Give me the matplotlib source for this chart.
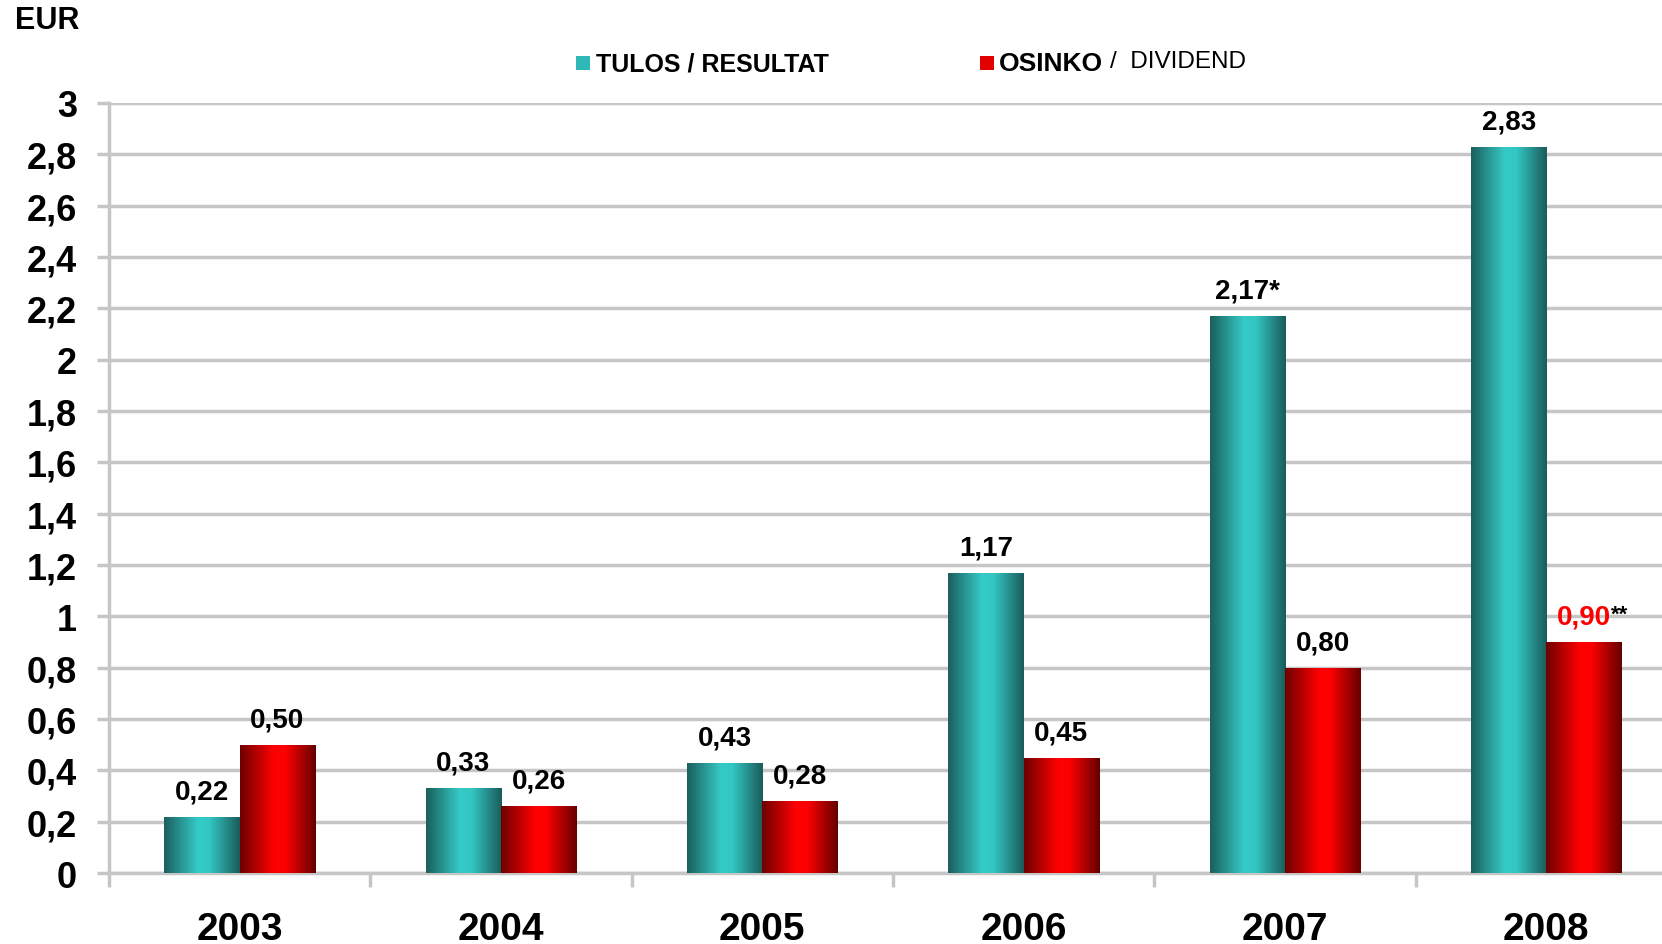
import matplotlib
matplotlib.use("Agg")
import matplotlib.pyplot as plt
import numpy as np
from matplotlib.colors import LinearSegmentedColormap
from matplotlib.patches import Rectangle

years = ["2003", "2004", "2005", "2006", "2007", "2008"]
tulos = [0.22, 0.33, 0.43, 1.17, 2.17, 2.83]
osinko = [0.50, 0.26, 0.28, 0.45, 0.80, 0.90]
tulos_labels = ["0,22", "0,33", "0,43", "1,17", "2,17*", "2,83"]
osinko_labels = ["0,50", "0,26", "0,28", "0,45", "0,80", "0,90"]
yticks = [0, 0.2, 0.4, 0.6, 0.8, 1, 1.2, 1.4, 1.6, 1.8, 2, 2.2, 2.4, 2.6, 2.8, 3]

plt.rcParams['font.family'] = ['Liberation Sans', 'DejaVu Sans']

teal_cmap = LinearSegmentedColormap.from_list(
    "teal", [(0, "#1b5f5d"), (0.45, "#35cbc8"), (0.6, "#33c6c3"), (1, "#1a5c5b")])
red_cmap = LinearSegmentedColormap.from_list(
    "red", [(0, "#6e0000"), (0.45, "#ff0000"), (0.6, "#fb0000"), (1, "#650000")])
grid_col = "#c6c6c6"

fig = plt.figure(figsize=(16.62, 9.45), dpi=100)
# axis runs past the right edge in the original
ax = fig.add_axes([0.0656, 0.0751, 0.9434, 0.8149])

x = np.arange(len(years))
w = 0.288
b1 = ax.bar(x - w / 2, tulos, w, zorder=3)
b2 = ax.bar(x + w / 2, osinko, w, zorder=3)


def grad_bars(bars, cmap):
    for b in bars:
        x0, y0 = b.get_x(), b.get_y()
        bw, bh = b.get_width(), b.get_height()
        im = ax.imshow(np.linspace(0, 1, 256).reshape(1, -1), cmap=cmap, aspect='auto',
                       extent=[x0, x0 + bw, y0, y0 + bh], zorder=3, interpolation='bilinear')
        im.set_clip_path(b)
        b.set_facecolor('none')
        b.set_edgecolor('none')


grad_bars(b1, teal_cmap)
grad_bars(b2, red_cmap)

ax.set_xlim(-0.5, 5.5)
ax.set_ylim(0, 3)
ax.set_yticks(yticks)
ax.set_yticklabels([("%g" % t).replace(".", ",") for t in yticks], fontsize=26, fontweight='bold')
ax.set_xticks(np.arange(-0.5, 6, 1))
ax.set_xticklabels([])
ax.set_xticks(x, minor=True)
ax.set_xticklabels(years, minor=True, fontsize=28, fontweight='bold')
ax.tick_params(axis='x', which='minor', length=0, pad=27)
ax.tick_params(axis='x', which='major', length=10, width=2.5, color=grid_col)
ax.tick_params(axis='y', length=9, width=2.5, color=grid_col, pad=14)
ax.yaxis.grid(True, color=grid_col, linewidth=2.5, zorder=0)
ax.set_axisbelow(True)
for s in ["top", "right"]:
    ax.spines[s].set_visible(False)
for s in ["left", "bottom"]:
    ax.spines[s].set_color(grid_col)
    ax.spines[s].set_linewidth(2.5)

for i in range(len(years)):
    ax.annotate(tulos_labels[i], (x[i] - w / 2, tulos[i]), xytext=(0, 9), textcoords='offset points',
                ha='center', va='bottom', fontsize=20, fontweight='bold', zorder=5)
    col = "red" if i == len(years) - 1 else "black"
    t = ax.annotate(osinko_labels[i], (x[i] + w / 2, osinko[i]), xytext=(0, 9), textcoords='offset points',
                    ha='center', va='bottom', fontsize=20, fontweight='bold', color=col, zorder=5)
    if i == len(years) - 1:
        ax.annotate("**", xy=(1, 1), xycoords=t, ha='left', va='top', fontsize=16,
                    fontweight='bold', color='black')

fig.text(0.009, 0.978, "EUR", fontsize=22, fontweight='bold', va='center', ha='left')

# legend
fig.patches.append(Rectangle((0.3466, 0.925), 0.0084, 0.0148, transform=fig.transFigure,
                             facecolor="#2fb8b5", edgecolor="none"))
fig.text(0.3585, 0.932, "TULOS / RESULTAT", fontsize=18, fontweight='bold', va='center', ha='left')
fig.patches.append(Rectangle((0.5896, 0.925), 0.0084, 0.0148, transform=fig.transFigure,
                             facecolor="#e00000", edgecolor="none"))
fig.text(0.601, 0.932, "OSINKO", fontsize=19, fontweight='bold', va='center', ha='left')
fig.text(0.668, 0.934, "/  DIVIDEND", fontsize=17.5, va='center', ha='left')

fig.savefig("out.png", dpi=100)
